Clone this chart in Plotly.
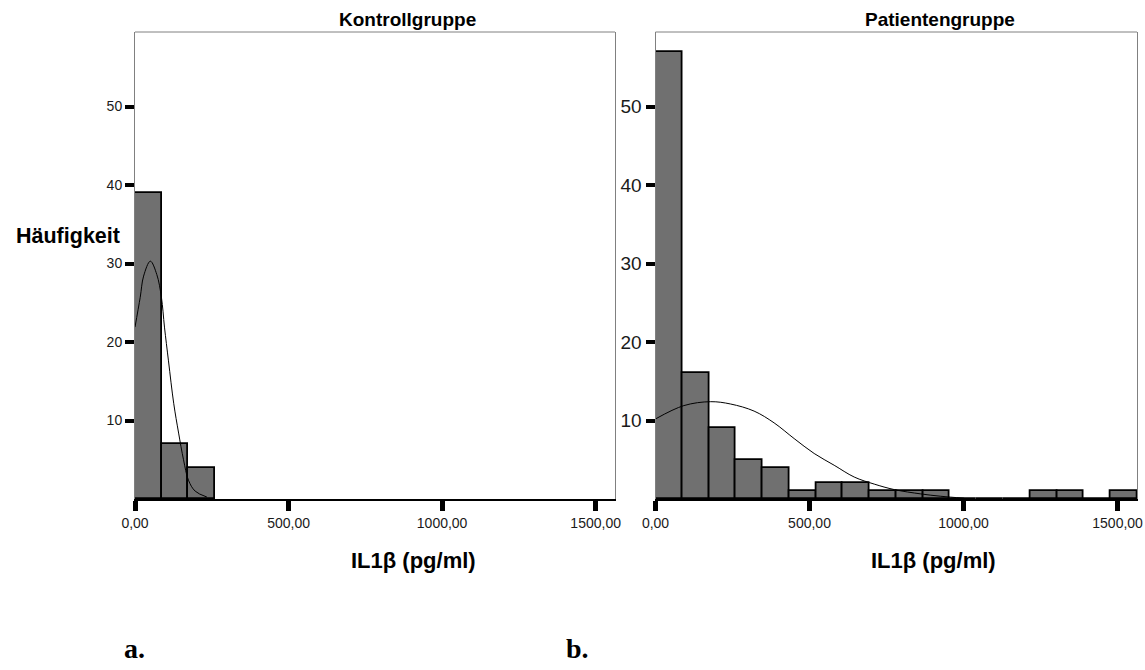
import plotly.graph_objects as go

# ---------------- data ----------------
bin_width = 86.9
control_counts = [39, 7, 4]
patient_counts = [57, 16, 9, 5, 4, 1, 2, 2, 1, 1, 1, 0, 0, 0, 1, 1, 0, 1]

control_curve_x = [0, 17, 28, 50, 71, 86, 96, 109, 126, 142, 158, 174, 196, 234]
control_curve_y = [21.9, 25.7, 28.4, 30.3, 28.6, 25.7, 21.9, 17.6, 12.2, 8.4, 5.0, 2.4, 1.0, 0.25]

patient_curve_x = [0, 92, 179, 244, 320, 385, 450, 515, 580, 645, 710, 775, 861, 926, 1002]
patient_curve_y = [10.2, 11.9, 12.4, 12.1, 11.2, 9.7, 7.7, 5.8, 4.3, 2.8, 1.9, 1.2, 0.65, 0.35, 0.1]

x_tick_vals = [0, 500, 1000, 1500]
x_tick_text = ["0,00", "500,00", "1000,00", "1500,00"]
y_tick_vals = [10, 20, 30, 40, 50]
y_tick_text = ["10", "20", "30", "40", "50"]

titles = ["Kontrollgruppe", "Patientengruppe"]
x_title = "IL1β (pg/ml)"
y_title = "Häufigkeit"
panel_labels = ["a.", "b."]

# ---------------- figure ----------------
W, H = 1145, 670
SANS = "Liberation Sans, Arial, sans-serif"
SERIF = "Liberation Serif, Times New Roman, serif"

def px(x):
    return x / W

def py(y):
    return 1 - y / H

fig = go.Figure()

bar_style = dict(marker=dict(color="#707070", line=dict(color="black", width=1.8)), showlegend=False)

fig.add_trace(go.Bar(x=[(i + 0.5) * bin_width for i in range(len(control_counts))],
                     y=control_counts, width=bin_width, xaxis="x", yaxis="y", **bar_style))
fig.add_trace(go.Bar(x=[(i + 0.5) * bin_width for i in range(len(patient_counts))],
                     y=patient_counts, width=bin_width, xaxis="x2", yaxis="y2", **bar_style))

curve_style = dict(mode="lines", line=dict(color="black", width=1, shape="spline"), showlegend=False)
fig.add_trace(go.Scatter(x=control_curve_x, y=control_curve_y, xaxis="x", yaxis="y", **curve_style))
fig.add_trace(go.Scatter(x=patient_curve_x, y=patient_curve_y, xaxis="x2", yaxis="y2", **curve_style))

y_dom = [py(499), py(32)]
x_dom1 = [px(135), px(615)]
x_dom2 = [px(655.5), px(1137)]

def xaxis_cfg(dom, anchor):
    return dict(domain=dom, anchor=anchor, range=[0, 1563], automargin=False,
                tickvals=x_tick_vals, ticktext=x_tick_text,
                ticks="outside", ticklen=10, tickwidth=5, tickcolor="black",
                showline=True, linecolor="black", linewidth=1.5,
                showgrid=False, zeroline=False,
                tickfont=dict(family=SANS, size=14, color="#1a1a1a"))

def yaxis_cfg(anchor, fsize):
    return dict(domain=y_dom, anchor=anchor, range=[0, 59.5], automargin=False,
                tickvals=y_tick_vals, ticktext=y_tick_text,
                ticks="outside", ticklen=9, tickwidth=4, tickcolor="black",
                showline=True, linecolor="#808080", linewidth=1, mirror=True,
                showgrid=False, zeroline=False,
                tickfont=dict(family=SANS, size=fsize, color="#1a1a1a"))

fig.update_layout(
    width=W, height=H,
    margin=dict(l=0, r=0, t=0, b=0, pad=0),
    paper_bgcolor="white", plot_bgcolor="white",
    barmode="overlay", bargap=0,
    xaxis=xaxis_cfg(x_dom1, "y"),
    yaxis=yaxis_cfg("x", 14),
    xaxis2=xaxis_cfg(x_dom2, "y2"),
    yaxis2=yaxis_cfg("x2", 19),
    font=dict(family=SANS, color="black"),
)

# top frame lines
for xr, yr in [("x domain", "y domain"), ("x2 domain", "y2 domain")]:
    fig.add_shape(type="line", xref=xr, yref=yr, x0=0, x1=1, y0=1, y1=1,
                  line=dict(color="#808080", width=1), layer="above")

annotations = [
    dict(text=f"<b>{titles[0]}</b>", x=px(407), y=py(19), font=dict(size=19)),
    dict(text=f"<b>{titles[1]}</b>", x=px(940), y=py(19), font=dict(size=19)),
    dict(text=f"<b>{x_title}</b>", x=px(413), y=py(560), font=dict(size=22)),
    dict(text=f"<b>{x_title}</b>", x=px(934), y=py(560), font=dict(size=22)),
    dict(text=f"<b>{y_title}</b>", x=px(68), y=py(236), font=dict(size=21.5)),
    dict(text=f"<b>{panel_labels[0]}</b>", x=px(134), y=py(648), font=dict(size=28, family=SERIF)),
    dict(text=f"<b>{panel_labels[1]}</b>", x=px(577), y=py(648), font=dict(size=28, family=SERIF)),
]
for a in annotations:
    f = dict(family=SANS, color="black")
    f.update(a.pop("font"))
    fig.add_annotation(xref="paper", yref="paper", showarrow=False,
                       xanchor="center", yanchor="middle", font=f, **a)

fig.write_html("out.html")
